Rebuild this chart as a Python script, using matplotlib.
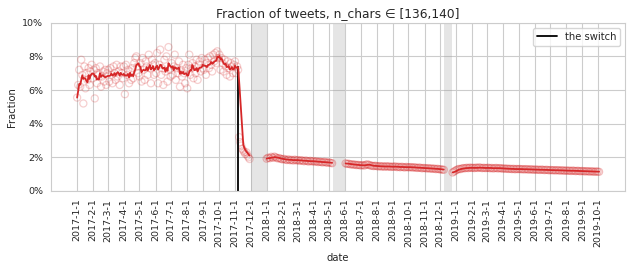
import matplotlib
matplotlib.use("Agg")
import matplotlib.pyplot as plt
from matplotlib.ticker import PercentFormatter
import numpy as np
import pandas as pd
import seaborn as sns

# fraction of tweets (in %) with 136-140 chars, sampled every few days
seg2017_start, seg2017_step = "2017-01-01", "2D"
seg2017 = [
    # Jan
    5.55, 6.3, 7.2, 6.2, 7.8, 6.9, 5.2, 7.4, 6.1, 7.0, 6.6, 7.3, 6.3, 7.1, 7.5, 6.7,
    # Feb
    7.2, 5.5, 7.3, 6.4, 7.0, 6.9, 7.4, 6.2, 6.8, 7.1, 6.5, 7.2, 6.3, 7.0,
    # Mar
    7.2, 6.5, 7.3, 6.9, 6.4, 7.4, 7.0, 6.6, 7.5, 6.8, 7.1, 6.3, 7.4, 7.0, 6.7,
    # Apr
    7.4, 5.75, 7.5, 6.9, 7.2, 6.4, 7.1, 6.6, 7.3, 6.7, 7.6, 7.9, 8.0, 7.4, 7.0,
    # May
    6.8, 7.6, 6.5, 7.9, 7.2, 6.6, 7.7, 7.4, 6.9, 8.1, 7.3, 6.4, 7.8, 7.5, 6.9, 7.6,
    # Jun
    7.0, 8.2, 6.4, 7.5, 8.4, 6.9, 7.3, 6.3, 7.8, 7.1, 8.0, 6.5, 8.55, 7.2, 6.8,
    # Jul
    7.6, 6.9, 7.4, 8.1, 6.6, 7.3, 7.0, 7.7, 6.2, 7.2, 6.8, 7.5, 7.0, 6.4, 7.3,
    # Aug
    6.1, 7.5, 8.1, 6.9, 7.3, 7.6, 6.7, 7.4, 7.0, 7.8, 6.6, 7.5, 7.7, 7.1, 7.9, 7.3,
    # Sep
    7.2, 7.8, 6.9, 7.6, 7.9, 7.3, 8.0, 7.5, 7.1, 8.1, 7.7, 8.2, 7.6, 8.3, 7.9,
    # Oct
    8.1, 7.2, 7.9, 7.6, 7.1, 7.8, 7.4, 6.9, 7.7, 7.3, 6.8, 7.6, 7.4, 7.0, 7.5,
    # Nov (switch on the 7th)
    7.7, 7.0, 7.4, 7.2,
    3.2, 2.9, 2.7, 2.5, 2.4, 2.3, 2.2, 2.3, 2.1, 2.0, 1.9,
]

seg2018a_start, seg2018a_step = "2018-01-01", "3D"
seg2018a = [
    1.92, 1.98, 1.95, 2.03, 1.97, 2.04, 1.99, 1.94, 1.96, 1.91, 1.88,
    1.91, 1.86, 1.84, 1.88, 1.83, 1.85, 1.81, 1.86, 1.82,
    1.84, 1.79, 1.83, 1.80, 1.77, 1.81, 1.78, 1.75, 1.79, 1.76,
    1.77, 1.74, 1.76, 1.72, 1.74, 1.72, 1.70, 1.73, 1.70, 1.68,
    1.70, 1.67, 1.65,
]

seg2018b_start, seg2018b_step = "2018-06-02", "3D"
seg2018b = [
    1.64, 1.61, 1.62, 1.58, 1.59, 1.56, 1.57, 1.54, 1.55, 1.53,
    1.52, 1.54, 1.51, 1.56, 1.58, 1.55, 1.51, 1.50, 1.48, 1.50,
    1.48, 1.46, 1.48, 1.45, 1.47, 1.44, 1.47, 1.45, 1.46, 1.43, 1.45,
    1.44, 1.46, 1.42, 1.44, 1.41, 1.44, 1.42, 1.40, 1.43, 1.41,
    1.41, 1.42, 1.39, 1.41, 1.39, 1.37, 1.39, 1.38, 1.35, 1.37,
    1.36, 1.34, 1.36, 1.33, 1.34, 1.32, 1.33, 1.30, 1.32, 1.29,
    1.29, 1.27, 1.26,
]

seg2019_start, seg2019_step = "2018-12-25", "3D"
seg2019 = [
    1.10, 1.16, 1.22,
    1.27, 1.31, 1.30, 1.34, 1.36, 1.35, 1.38, 1.36, 1.39, 1.37,
    1.38, 1.36, 1.39, 1.37, 1.40, 1.38, 1.36, 1.38, 1.36,
    1.37, 1.38, 1.35, 1.37, 1.34, 1.36, 1.37, 1.34, 1.36, 1.35, 1.33,
    1.34, 1.32, 1.33, 1.31, 1.32, 1.30, 1.32, 1.29, 1.31, 1.30,
    1.31, 1.29, 1.30, 1.28, 1.30, 1.29, 1.27, 1.29, 1.28, 1.26,
    1.28, 1.26, 1.27, 1.25, 1.27, 1.26, 1.24, 1.26, 1.25, 1.23,
    1.25, 1.23, 1.24, 1.22, 1.24, 1.23, 1.21, 1.23, 1.22, 1.20,
    1.22, 1.20, 1.21, 1.19, 1.21, 1.20, 1.18, 1.20, 1.19, 1.17, 1.19,
    1.18, 1.16, 1.18, 1.17, 1.15, 1.17, 1.16, 1.14, 1.16, 1.15,
    1.14,
]

switch_date = "2017-11-07"
# periods without data
gaps = [("2017-12-01", "2018-01-01"), ("2018-05-09", "2018-06-01"),
        ("2018-12-09", "2018-12-24")]

# (start, step, values, rolling window, marker alpha)
segments = [
    (seg2017_start, seg2017_step, seg2017, 5, 0.22),
    (seg2018a_start, seg2018a_step, seg2018a, 3, 0.3),
    (seg2018b_start, seg2018b_step, seg2018b, 3, 0.3),
    (seg2019_start, seg2019_step, seg2019, 3, 0.3),
]

sns.set_style("whitegrid")
red = "#d62728"

fig = plt.figure(figsize=(6.33, 2.73), dpi=100)
ax = fig.add_axes((0.0806, 0.3004, 0.907, 0.6165))

for start, step, vals, win, alpha in segments:
    s = pd.Series(vals, index=pd.date_range(start, periods=len(vals), freq=step))
    ax.scatter(s.index, s.values, s=26, facecolors="none", edgecolors=red,
               alpha=alpha, linewidths=0.9, zorder=2)
    ax.plot(s.index, s.rolling(win, min_periods=1).mean().values, color=red,
            lw=1.3, zorder=3)

first = pd.Series(seg2017, index=pd.date_range(seg2017_start, periods=len(seg2017),
                                                freq=seg2017_step))
sw = pd.Timestamp(switch_date)
top = first.rolling(5, min_periods=1).mean()[sw]
ax.plot([sw, sw], [0, top], color="k", lw=1.3, zorder=2.5, label="the switch")

for a, b in gaps:
    ax.axvspan(pd.Timestamp(a), pd.Timestamp(b), color="0.6", alpha=0.25, lw=0, zorder=1)

ax.set_ylim(0, 10)
ax.set_yticks(np.arange(0, 11, 2))
ax.yaxis.set_major_formatter(PercentFormatter(100, decimals=0))

ticks = pd.date_range("2017-01-01", "2019-10-01", freq="MS")
ax.set_xticks(ticks)
ax.set_xticklabels([f"{t.year}-{t.month}-{t.day}" for t in ticks], rotation=90)
ax.tick_params(labelsize=6.8, pad=2)

ax.set_xlabel("date", fontsize=7.2, labelpad=4)
ax.set_ylabel("Fraction", fontsize=7.2, labelpad=4)
ax.set_title("Fraction of tweets, n_chars \u2208 [136,140]", fontsize=8.8, pad=4)
ax.legend(loc="upper right", fontsize=7.2)

fig.savefig("out.png", dpi=100)
